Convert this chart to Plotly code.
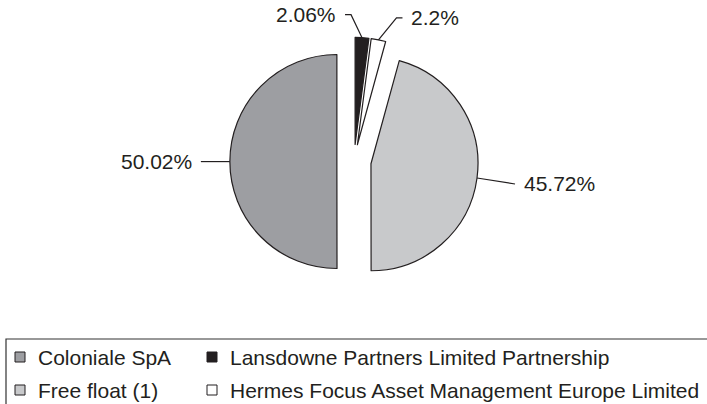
import math
import plotly.graph_objects as go

# ---------------- data ----------------
slice_labels = [
    "Lansdowne Partners Limited Partnership",
    "Hermes Focus Asset Management Europe Limited",
    "Free float (1)",
    "Coloniale SpA",
]
slice_values = [2.06, 2.2, 45.72, 50.02]
slice_colors = ["#231f20", "#ffffff", "#c8c9cb", "#9d9ea2"]

# legend entries (row-major, two columns)
legend_order = ["Coloniale SpA", "Lansdowne Partners Limited Partnership",
                "Free float (1)", "Hermes Focus Asset Management Europe Limited"]

# ---------------- layout constants ----------------
W, H = 707, 404
CX, CY = 354.0, 161.5      # pie centre in px
R = 107.0                  # pie radius in px
PULL = 0.16
LINE = "#231f20"
FONT = "Liberation Sans, Arial, sans-serif"
FS = 21

# leader-line styling per slice: elbow offset (dx, dy) from the rim point, tail length
elbow_dx = [-11, 18, 38, -29]
elbow_dy = [-23, -22, 6, 0]
tail_dx = [-6, 6, 0, 0]
text_gap = 7

# legend geometry (px)
leg_col_x = [36, 228]      # text start of each column
leg_row_y = [357, 390]     # centre line of each row
sw = 10                    # swatch size
sw_gap = 16                # swatch centre to text start
box_left, box_top = 6, 339

ext = R * (1 + PULL)
dom_x = [(CX - ext) / W, (CX + ext) / W]
dom_y = [1 - (CY + ext) / H, 1 - (CY - ext) / H]

fig = go.Figure()
fig.add_trace(go.Pie(
    labels=slice_labels, values=slice_values, sort=False,
    direction="clockwise", rotation=0,
    marker=dict(colors=slice_colors, line=dict(color=LINE, width=1.2)),
    pull=[PULL] * len(slice_values),
    textinfo="none", showlegend=False,
    domain=dict(x=dom_x, y=dom_y),
))


def px2paper(x, y):
    return x / W, 1 - y / H


total = sum(slice_values)
cum = 0.0
shapes = []
annotations = []
for i, v in enumerate(slice_values):
    mid = (cum + v / 2) / total
    cum += v
    a = 2 * math.pi * mid
    dx, dy = math.sin(a), -math.cos(a)
    scx, scy = CX + PULL * R * dx, CY + PULL * R * dy
    p0 = (scx + R * dx, scy + R * dy)
    p1 = (p0[0] + elbow_dx[i], p0[1] + elbow_dy[i])
    p2 = (p1[0] + tail_dx[i], p1[1])
    pts = [px2paper(*p) for p in (p0, p1, p2)]
    path = "M {} {} L {} {} L {} {}".format(pts[0][0], pts[0][1], pts[1][0], pts[1][1], pts[2][0], pts[2][1])
    shapes.append(dict(type="path", xref="paper", yref="paper", path=path,
                       line=dict(color=LINE, width=1.2)))
    side = 1 if (p2[0] - p0[0]) > 0 else -1
    tx, ty = px2paper(p2[0] + side * text_gap, p2[1])
    annotations.append(dict(
        x=tx, y=ty, xref="paper", yref="paper", showarrow=False,
        text=f"{v:g}%", xanchor="left" if side > 0 else "right", yanchor="middle",
        font=dict(family=FONT, size=FS, color=LINE),
    ))

# legend frame: only top and left edges fall inside the picture
bx0, by0 = px2paper(box_left, box_top)
shapes.append(dict(type="rect", xref="paper", yref="paper",
                   x0=bx0, y0=-0.1, x1=1.1, y1=by0,
                   line=dict(color="#333333", width=1.2)))

# legend entries
for k, name in enumerate(legend_order):
    row, col = divmod(k, 2)
    tx, ty = leg_col_x[col], leg_row_y[row]
    colr = slice_colors[slice_labels.index(name)]
    sx = tx - sw_gap
    x0, y0 = px2paper(sx - sw / 2, ty + sw / 2)
    x1, y1 = px2paper(sx + sw / 2, ty - sw / 2)
    shapes.append(dict(type="rect", xref="paper", yref="paper",
                       x0=x0, y0=y0, x1=x1, y1=y1, fillcolor=colr,
                       line=dict(color=LINE, width=1)))
    ax, ay = px2paper(tx, ty)
    annotations.append(dict(
        x=ax, y=ay, xref="paper", yref="paper", showarrow=False,
        text=name, xanchor="left", yanchor="middle",
        font=dict(family=FONT, size=FS, color=LINE),
    ))

fig.update_layout(
    width=W, height=H,
    margin=dict(l=0, r=0, t=0, b=0),
    paper_bgcolor="white", plot_bgcolor="white",
    shapes=shapes, annotations=annotations,
    font=dict(family=FONT, color=LINE),
    showlegend=False,
)

fig.write_html("out.html")
